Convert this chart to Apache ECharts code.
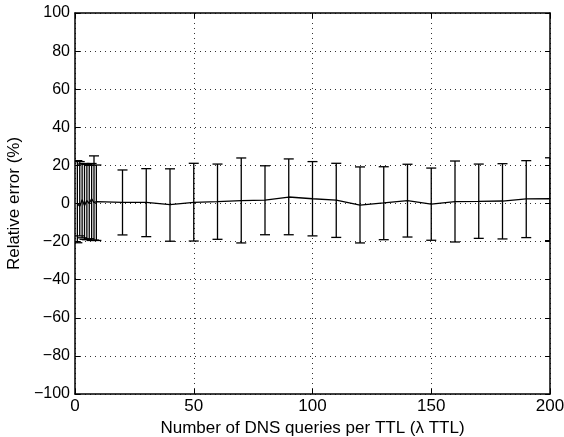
<!DOCTYPE html>
<html>
<head>
<meta charset="utf-8">
<script src="https://cdn.jsdelivr.net/npm/echarts@6/dist/echarts.min.js"></script>
<style>
  html, body { margin: 0; padding: 0; background: #fff; }
  #chart { width: 564px; height: 437px; }
</style>
</head>
<body>
<div id="chart"></div>
<script>
// queries per TTL
var xValues = [1, 2, 3, 4, 5, 6, 7, 8, 9,
    20, 30, 40, 50, 60, 70, 80, 90, 100, 110, 120, 130, 140, 150, 160, 170, 180, 190, 200];
// mean relative error (%)
var meanErr = [0, -1.5, 2, -1, 1.5, 0, 2.5, 0.5, 1,
    0.6, 0.6, -0.6, 0.6, 1, 1.5, 1.8, 3.4, 2.5, 1.8, -0.8, 0.3, 1.5, -0.3, 1, 1.1, 1.3, 2.4, 2.5];
// error bar upper / lower ends
var upperErr = [22.5, 22, 20.7, 21, 20.5, 20, 21, 25, 20.2,
    17.6, 18.3, 18.2, 21.1, 20.7, 23.9, 19.8, 23.4, 22, 21.1, 19.2, 19.3, 20.6, 18.6, 22.3, 20.7, 20.9, 22.5, 24];
var lowerErr = [-20.6, -17, -18, -18.8, -19, -18.5, -19.4, -19.2, -19.4,
    -16.5, -17.4, -19.8, -19.7, -18.8, -20.7, -16.4, -16.4, -17, -17.8, -20.7, -19, -17.6, -19.3, -20.2, -18.3, -18.6, -17.9, -19.5];
var yTicks = [-100, -80, -60, -40, -20, 0, 20, 40, 60, 80, 100];

var font = 'Liberation Sans, Arial, Helvetica, sans-serif';
var fs = 17;

var barData = xValues.map(function (x, i) { return [x, lowerErr[i], upperErr[i]]; });
var lineData = xValues.map(function (x, i) { return [x, meanErr[i]]; });

function fmtY(v) {
    return v < 0 ? '\u2212' + Math.abs(v) : String(v);
}

var tick = { inside: true, length: 5, lineStyle: { color: '#000' } };
var frame = { onZero: false, lineStyle: { color: '#000', width: 1.5 } };
var dots = { show: true, lineStyle: { color: '#333', type: [1, 4], width: 1 } };

var chart = echarts.init(document.getElementById('chart'), null, { renderer: 'canvas' });
chart.setOption({
    animation: false,
    grid: { left: 75, right: 14, top: 13, bottom: 43, containLabel: false, outerBoundsMode: 'none' },
    xAxis: [
        {
            type: 'value', min: 0, max: 200, interval: 50,
            name: 'Number of DNS queries per TTL (\u03bb TTL)',
            nameLocation: 'middle', nameGap: 25,
            nameTextStyle: { color: '#000', fontFamily: font, fontSize: fs },
            axisLine: frame,
            axisTick: tick,
            axisLabel: { color: '#000', fontFamily: font, fontSize: fs, margin: 4 },
            splitLine: dots
        },
        {
            type: 'value', min: 0, max: 200, interval: 50, position: 'top',
            axisLine: frame, axisTick: tick,
            axisLabel: { show: false }, splitLine: { show: false }
        }
    ],
    yAxis: [
        {
            type: 'value', min: yTicks[0], max: yTicks[yTicks.length - 1], interval: 20,
            name: 'Relative error (%)',
            nameLocation: 'middle', nameGap: 41, nameRotate: 90,
            nameTextStyle: { color: '#000', fontFamily: font, fontSize: fs },
            axisLine: frame,
            axisTick: tick,
            axisLabel: { color: '#000', fontFamily: font, fontSize: 16, margin: 5, formatter: fmtY },
            splitLine: dots
        },
        {
            type: 'value', min: -100, max: 100, interval: 20, position: 'right',
            axisLine: frame, axisTick: tick,
            axisLabel: { show: false }, splitLine: { show: false }
        }
    ],
    series: [
        {
            type: 'custom',
            clip: true,
            data: barData,
            renderItem: function (params, api) {
                var x = api.value(0);
                var lo = api.coord([x, api.value(1)]);
                var hi = api.coord([x, api.value(2)]);
                var hw = 5;
                var style = { stroke: '#000', lineWidth: 1.3 };
                return {
                    type: 'group',
                    children: [
                        { type: 'line', shape: { x1: lo[0], y1: lo[1], x2: hi[0], y2: hi[1] }, style: style },
                        { type: 'line', shape: { x1: hi[0] - hw, y1: hi[1], x2: hi[0] + hw, y2: hi[1] }, style: style },
                        { type: 'line', shape: { x1: lo[0] - hw, y1: lo[1], x2: lo[0] + hw, y2: lo[1] }, style: style }
                    ]
                };
            },
            z: 3
        },
        {
            type: 'line',
            data: lineData,
            showSymbol: false,
            lineStyle: { color: '#000', width: 1.3 },
            z: 4
        }
    ]
});
</script>
</body>
</html>
